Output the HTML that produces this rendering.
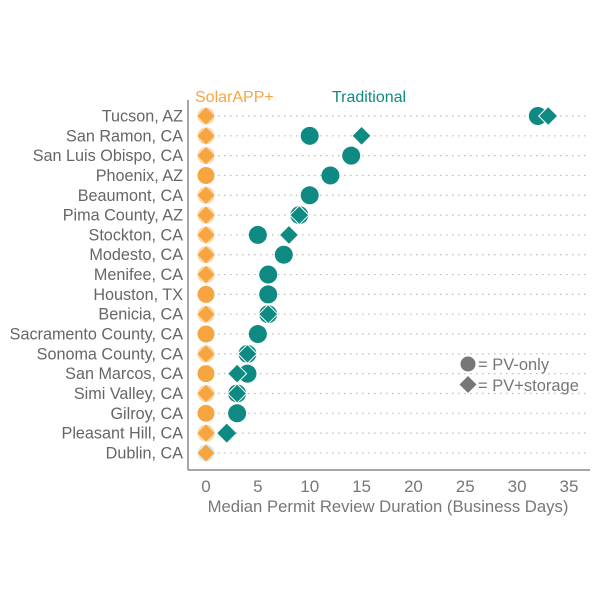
<!DOCTYPE html>
<html><head><style>body{margin:0;background:#fff}svg{display:block}</style></head><body>
<svg width="600" height="600" xmlns="http://www.w3.org/2000/svg" font-family="Liberation Sans, sans-serif">
<g id="grid" stroke="#bbb" stroke-width="1.2" stroke-dasharray="1.5,4.5"></g>
<line x1="188" y1="100" x2="188" y2="470" stroke="#888" stroke-width="1.5"/>
<line x1="188" y1="470" x2="590" y2="470" stroke="#888" stroke-width="1.5"/>
<g id="labels" fill="#666" font-size="16.2" text-anchor="end"></g>
<g id="ticks" fill="#777" font-size="17" text-anchor="middle"></g>
<text x="388" y="512" fill="#777" font-size="16.7" text-anchor="middle">Median Permit Review Duration (Business Days)</text>
<text x="195" y="102" fill="#F7A541" font-size="16">SolarAPP+</text>
<text x="332" y="102" fill="#0E8A82" font-size="16">Traditional</text>
<g id="pts"></g>
<circle cx="468" cy="364" r="7.5" fill="#777"/>
<text x="478" y="370" fill="#777" font-size="16.5">= PV-only</text>
<path d="M468 376 l8.5 8.5 l-8.5 8.5 l-8.5 -8.5z" fill="#777"/>
<text x="478" y="391" fill="#777" font-size="16.5">= PV+storage</text>
</svg>
<script>
const ns="http://www.w3.org/2000/svg";
const names=["Tucson, AZ","San Ramon, CA","San Luis Obispo, CA","Phoenix, AZ","Beaumont, CA","Pima County, AZ","Stockton, CA","Modesto, CA","Menifee, CA","Houston, TX","Benicia, CA","Sacramento County, CA","Sonoma County, CA","San Marcos, CA","Simi Valley, CA","Gilroy, CA","Pleasant Hill, CA","Dublin, CA"];
const orangeCircle=[3,9,11,13,15];
const trad=[[[32],[33]],[[10],[15]],[[14],[]],[[12],[]],[[10],[]],[[9],[9]],[[5],[8]],[[7.5],[]],[[6],[]],[[6],[]],[[6],[6]],[[5],[]],[[4],[4]],[[4],[3]],[[3],[3]],[[3],[]],[[],[2]],[[],[]]];
const X=v=>206+v*10.37, Y=i=>116+i*19.82;
function el(t,a,p){const e=document.createElementNS(ns,t);for(const k in a)e.setAttribute(k,a[k]);document.getElementById(p).appendChild(e);return e;}
names.forEach((n,i)=>{const y=Y(i);
el("line",{x1:212,y1:y,x2:590,y2:y},"grid");
el("text",{x:183,y:y+5.5},"labels").textContent=n;
const o="#F7A541",t="#0E8A82";
if(orangeCircle.includes(i))el("circle",{cx:X(0),cy:y,r:8.5,fill:o},"pts");
else{el("circle",{cx:X(0),cy:y,r:8.5,fill:i==17?"#d8ecea":"#fbd6a6"},"pts");el("path",{d:`M${X(0)} ${y-8.5} l8.5 8.5 l-8.5 8.5 l-8.5 -8.5z`,fill:o},"pts");}
trad[i][0].forEach(v=>el("circle",{cx:X(v),cy:y,r:9,fill:t},"pts"));
trad[i][1].forEach(v=>el("path",{d:`M${X(v)} ${y-9.5} l9.5 9.5 l-9.5 9.5 l-9.5 -9.5z`,fill:t,stroke:"#fff","stroke-width":trad[i][0].length?1:0},"pts"));
});
[0,5,10,15,20,25,30,35].forEach(v=>{el("text",{x:X(v),y:492},"ticks").textContent=v;});
</script>
</body></html>
